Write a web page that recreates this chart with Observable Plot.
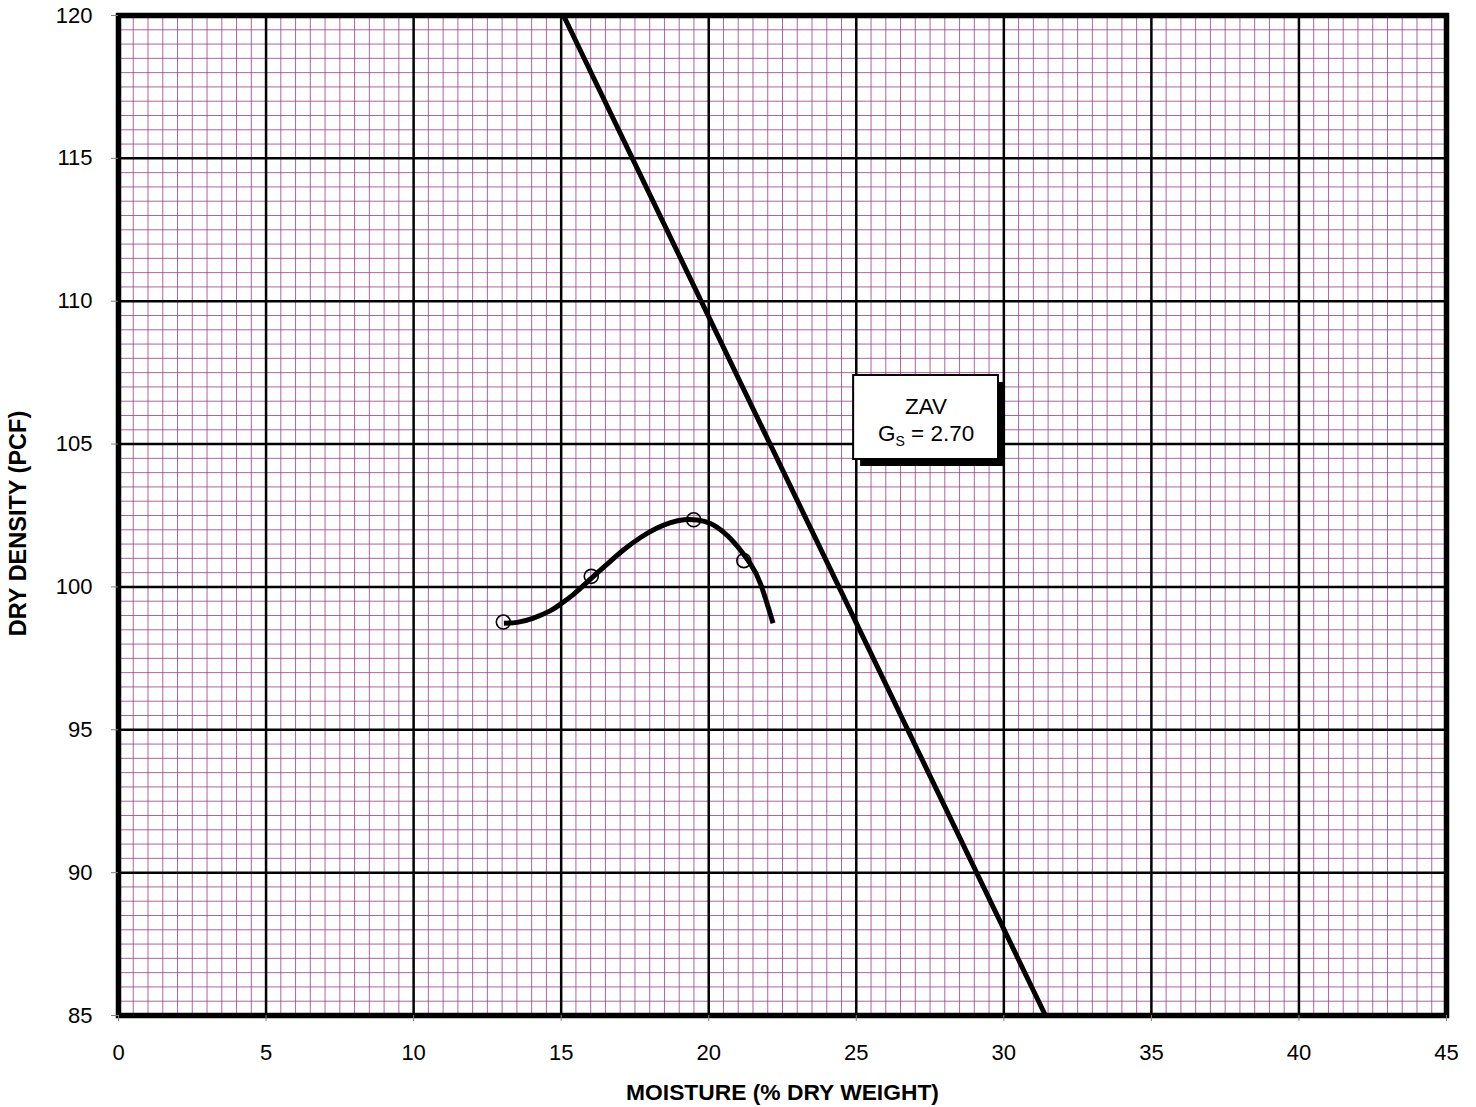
<!DOCTYPE html>
<html>
<head>
<meta charset="utf-8">
<script src="https://cdn.jsdelivr.net/npm/d3@7"></script>
<script src="https://cdn.jsdelivr.net/npm/@observablehq/plot@0.6"></script>
<style>
  html, body { margin: 0; padding: 0; background: #fff; }
  #chart svg { display: block; }
</style>
</head>
<body>
<div id="chart"></div>
<script>
// ---- Data ----
const xTicks = [0, 5, 10, 15, 20, 25, 30, 35, 40, 45];
const yTicks = [85, 90, 95, 100, 105, 110, 115, 120];
const xMinor = d3.range(0, 45.01, 0.5);
const yMinor = d3.range(85, 120.01, 0.5);

// Zero-air-voids line (Gs = 2.70)
const zavMoisture = [15.08, 31.41];
const zavDensity = [120, 85];

// Compaction test points
const testMoisture = [13.04, 16.02, 19.49, 21.19];
const testDensity = [98.77, 100.37, 102.35, 100.92];

// Compaction curve
const curveMoisture = [13.06, 13.51, 14.06, 14.64, 14.98, 15.43, 16.00, 16.56, 17.12, 17.69, 18.25, 18.71, 19.16, 19.61, 20.06, 20.51, 20.96, 21.42, 21.76, 22.18];
const curveDensity  = [98.73, 98.76, 98.91, 99.17, 99.40, 99.75, 100.28, 100.80, 101.30, 101.73, 102.06, 102.25, 102.35, 102.34, 102.22, 101.91, 101.44, 100.80, 100.10, 98.73];

// Annotation box
const labelLines = ["ZAV", "GS = 2.70"];
const labelBox = {x1: 24.91, x2: 29.82, y1: 104.46, y2: 107.40};
const labelLineY = [106.3, 105.37];

const zav = zavMoisture.map((m, i) => ({m, d: zavDensity[i]}));
const tests = testMoisture.map((m, i) => ({m, d: testDensity[i]}));
const curve = curveMoisture.map((m, i) => ({m, d: curveDensity[i]}));
const labels = labelLines.map((t, i) => ({t, m: (labelBox.x1 + labelBox.x2) / 2, d: labelLineY[i]}));

const minorColor = "#983f86";

const plot = Plot.plot({
  width: 1476,
  height: 1107,
  marginLeft: 118,
  marginRight: 30,
  marginTop: 15,
  marginBottom: 92,
  style: {fontFamily: "Arial, 'Liberation Sans', sans-serif", fontSize: "22px", background: "#fff", color: "#000"},
  x: {domain: [0, 45], axis: null},
  y: {domain: [85, 120], axis: null},
  marks: [
    Plot.ruleX(xMinor, {stroke: minorColor, strokeWidth: 1, strokeOpacity: 0.8}),
    Plot.ruleY(yMinor, {stroke: minorColor, strokeWidth: 1, strokeOpacity: 0.8}),
    Plot.ruleX(xTicks, {stroke: "#000", strokeWidth: 2.5}),
    Plot.ruleY(yTicks, {stroke: "#000", strokeWidth: 2.5}),
    Plot.line(zav, {x: "m", y: "d", stroke: "#000", strokeWidth: 5}),
    Plot.line(curve, {x: "m", y: "d", stroke: "#000", strokeWidth: 5, curve: "natural", strokeLinecap: "butt"}),
    Plot.dot(tests, {x: "m", y: "d", r: 7, stroke: "#000", strokeWidth: 1.6, fill: "none"}),
    Plot.rect([labelBox], {x1: "x1", x2: "x2", y1: "y1", y2: "y2", fill: "#000", dx: 7, dy: 7}),
    Plot.rect([labelBox], {x1: "x1", x2: "x2", y1: "y1", y2: "y2", fill: "#fff", stroke: "#000", strokeWidth: 2}),
    Plot.text(labels, {x: "m", y: "d", text: "t", fontSize: 22.5, fill: "#000"}),
    Plot.frame({stroke: "#000", strokeWidth: 5.5}),
    Plot.axisX(xTicks, {tickSize: 6, tickPadding: 23, stroke: "#808080", fill: "#000", label: null, fontSize: 22}),
    Plot.axisY(yTicks, {tickSize: 7, tickPadding: 19, stroke: "#808080", fill: "#000", label: null, fontSize: 22}),
    Plot.text(["MOISTURE (% DRY WEIGHT)"], {frameAnchor: "bottom", dy: 84, fontWeight: "bold", fontSize: 22.8, fill: "#000"}),
    Plot.text(["DRY DENSITY (PCF)"], {frameAnchor: "left", dx: -100, dy: 8, rotate: -90, textAnchor: "middle", fontWeight: "bold", fontSize: 23.5, fill: "#000"})
  ]
});

// Subscript S in "GS = 2.70"
d3.select(plot).selectAll("text").filter(function () { return this.textContent === "GS = 2.70"; })
  .each(function () {
    const t = d3.select(this);
    t.text("");
    t.append("tspan").text("G");
    t.append("tspan").attr("font-size", 14).attr("dy", 5).text("S");
    t.append("tspan").attr("dy", -5).text(" = 2.70");
  });

document.getElementById("chart").appendChild(plot);
</script>
</body>
</html>
